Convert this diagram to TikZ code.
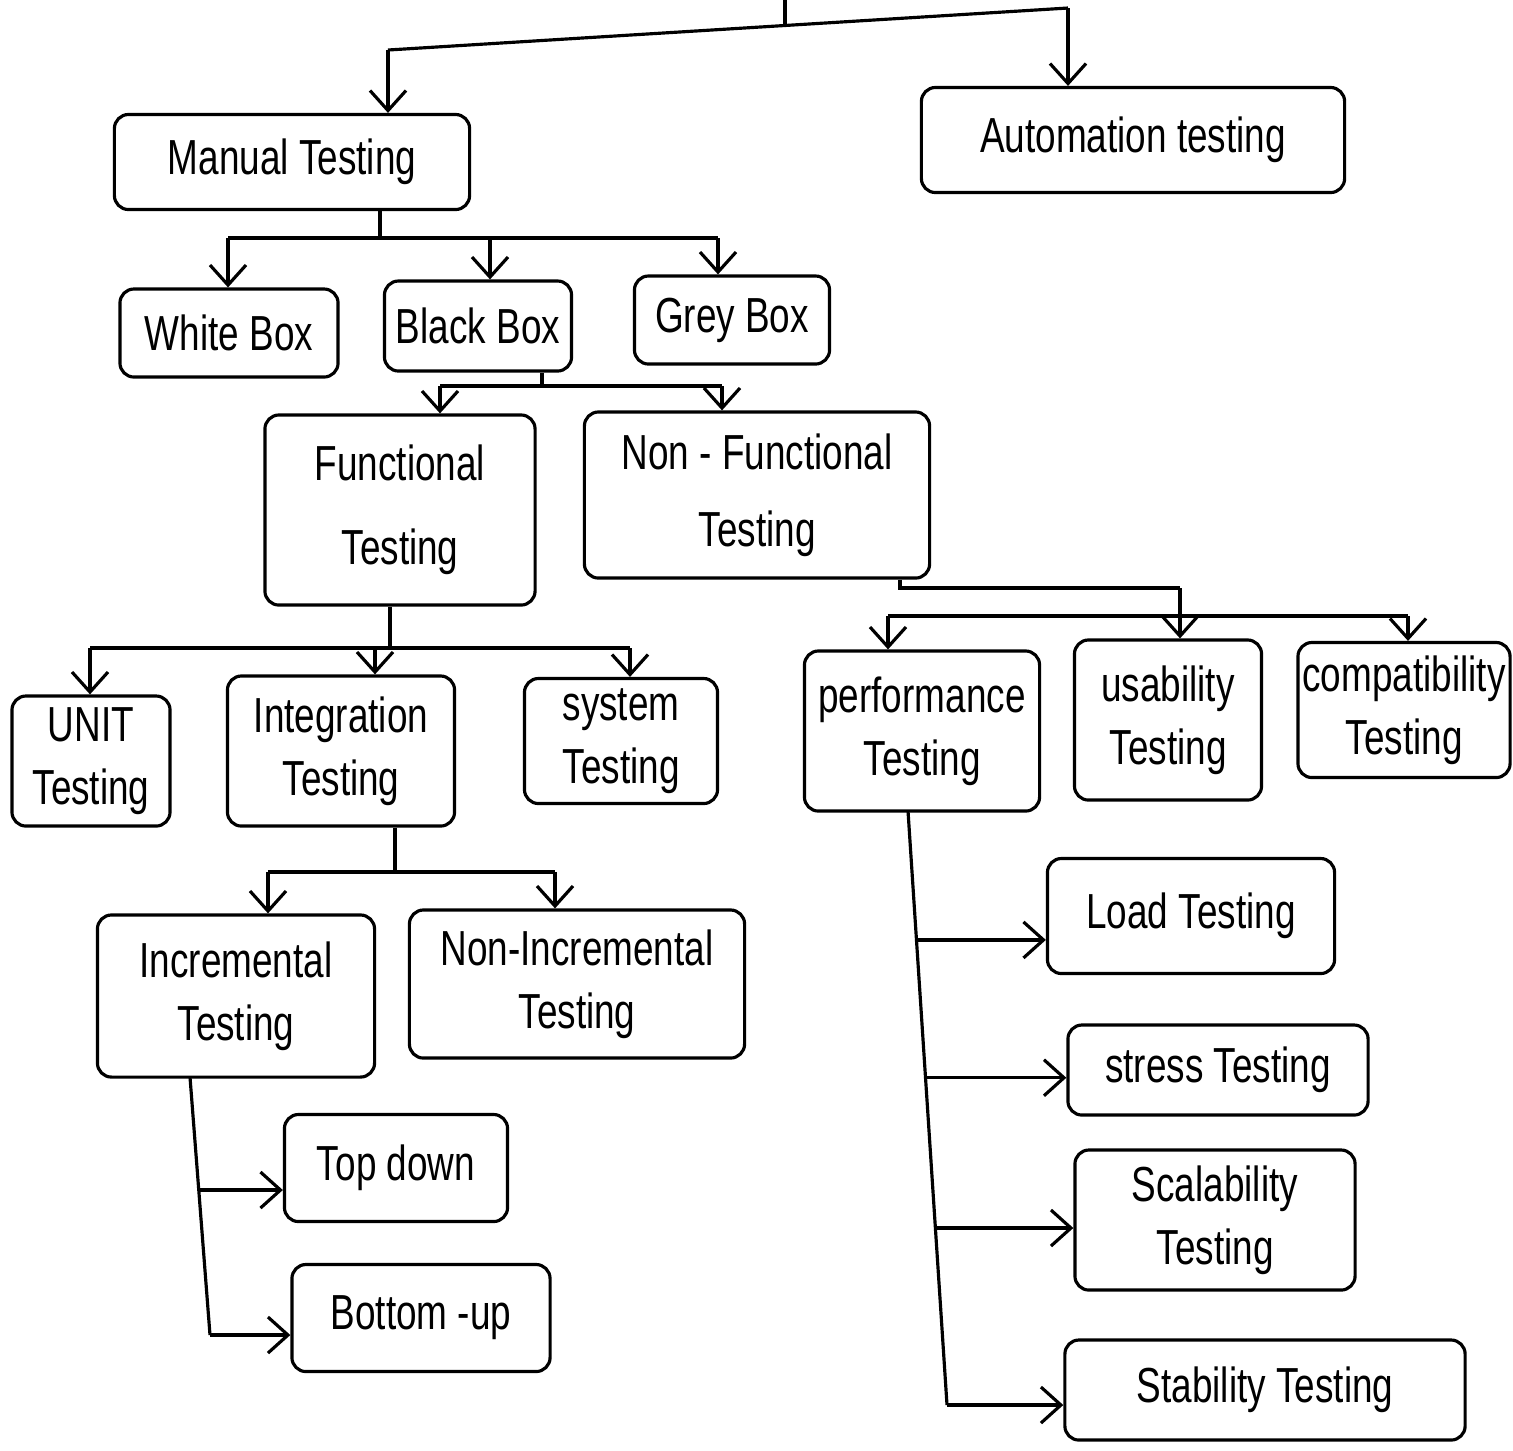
\documentclass[tikz,border=0pt]{standalone}
\usepackage{fontspec}
\setmainfont{Liberation Sans}[FakeStretch=0.75]
\usetikzlibrary{arrows.meta,calc}
\begin{document}
\begin{tikzpicture}[x=0.01cm,y=-0.01cm,
  box/.style={draw,line width=0.9pt,rounded corners=4pt,align=center,
    inner sep=1pt,font=\fontsize{14}{18}\selectfont},
  link/.style={line width=0.9pt},
  arr/.style={link,-{Straight Barb[length=2mm,width=3.6mm,line width=0.9pt]}}]
\useasboundingbox (0,0) rectangle (1513,1450);
\fill[white] (0,0) rectangle (1513,1450);

% ---- boxes ----
\node[box,minimum width=3.55cm,minimum height=0.95cm] (manual) at (292,162) {Manual Testing};
\node[box,minimum width=4.23cm,minimum height=1.05cm] (auto) at (1133,140) {Automation testing};

\node[box,minimum width=2.18cm,minimum height=0.88cm] (white) at (229,333) {White Box};
\node[box,minimum width=1.87cm,minimum height=0.90cm] (black) at (478,326) {Black Box};
\node[box,minimum width=1.95cm,minimum height=0.88cm] (grey) at (732,320) {Grey Box};

\node[box,minimum width=2.70cm,minimum height=1.90cm] (func) at (400,510) {Functional\\[6pt]Testing};
\node[box,minimum width=3.45cm,minimum height=1.66cm] (nonfunc) at (757,495) {Non - Functional\\[4pt]Testing};

\node[box,minimum width=1.58cm,minimum height=1.30cm] (unit) at (91,761) {UNIT\\Testing};
\node[box,minimum width=2.27cm,minimum height=1.50cm] (integ) at (341,751) {Integration\\Testing};
\node[box,minimum width=1.93cm,minimum height=1.25cm] (system) at (621,741) {system\\Testing};

\node[box,minimum width=2.35cm,minimum height=1.60cm] (perf) at (922,731) {performance\\Testing};
\node[box,minimum width=1.87cm,minimum height=1.60cm] (usab) at (1168,720) {usability\\Testing};
\node[box,minimum width=2.12cm,minimum height=1.35cm] (compat) at (1404,710) {compatibility\\Testing};

\node[box,minimum width=2.77cm,minimum height=1.62cm] (incr) at (236,996) {Incremental\\Testing};
\node[box,minimum width=3.35cm,minimum height=1.48cm] (nonincr) at (577,984) {Non-Incremental\\Testing};

\node[box,minimum width=2.23cm,minimum height=1.07cm] (topdown) at (396,1168) {Top down};
\node[box,minimum width=2.58cm,minimum height=1.07cm] (bottomup) at (421,1318) {Bottom -up};

\node[box,minimum width=2.87cm,minimum height=1.15cm] (load) at (1191,916) {Load Testing};
\node[box,minimum width=3.00cm,minimum height=0.90cm] (stress) at (1218,1070) {stress Testing};
\node[box,minimum width=2.80cm,minimum height=1.40cm] (scal) at (1215,1220) {Scalability\\Testing};
\node[box,minimum width=4.00cm,minimum height=1.00cm] (stab) at (1265,1390) {Stability Testing};

% ---- top split ----
\coordinate (tt) at (785,0);
\coordinate (tj) at (785,26);
\coordinate (tL) at (388,50);
\coordinate (tR) at (1068,8);
\draw[link] (tt) -- (tj);
\draw[link] (tL) -- (tR);
\draw[arr] (tL) -- (tL |- manual.north);
\draw[arr] (tR) -- (tR |- auto.north);

% ---- manual testing -> box kinds ----
\coordinate (mx) at (380,238);
\coordinate (mL) at (228,238);
\coordinate (mB) at (490,238);
\coordinate (mR) at (718,238);
\draw[link] (mx |- manual.south) -- (mx);
\draw[link] (mL) -- (mR);
\draw[arr] (mL) -- (mL |- white.north);
\draw[arr] (mB) -- (mB |- black.north);
\draw[arr] (mR) -- (mR |- grey.north);

% ---- black box -> functional / non-functional ----
\coordinate (bx) at (542,386);
\coordinate (bL) at (440,386);
\coordinate (bR) at (722,386);
\draw[link] (bx |- black.south) -- (bx);
\draw[link] (bL) -- (bR);
\draw[arr] (bL) -- (bL |- func.north);
\draw[arr] (bR) -- (bR |- nonfunc.north);

% ---- functional -> unit / integration / system ----
\coordinate (fx) at (390,648);
\coordinate (fL) at (90,648);
\coordinate (fI) at (375,648);
\coordinate (fR) at (630,648);
\draw[link] (fx |- func.south) -- (fx);
\draw[link] (fL) -- (fR);
\draw[arr] (fL) -- (fL |- unit.north);
\draw[arr] (fI) -- (fI |- integ.north);
\draw[arr] (fR) -- (fR |- system.north);

% ---- non-functional -> performance / usability / compatibility ----
\coordinate (nx) at (900,588);
\coordinate (nU) at (1180,588);
\coordinate (nL) at (888,616);
\coordinate (nR) at (1408,616);
\draw[link] (nx |- nonfunc.south) -- (nx) -- (nU);
\draw[arr] (nU) -- (nU |- usab.north);
\draw[link] (nL) -- (nR);
\draw[arr] (nL) -- (nL |- perf.north);
\draw[arr] (nR) -- (nR |- compat.north);

% ---- integration -> incremental / non-incremental ----
\coordinate (ix) at (395,872);
\coordinate (iL) at (268,872);
\coordinate (iR) at (555,872);
\draw[link] (ix |- integ.south) -- (ix);
\draw[link] (iL) -- (iR);
\draw[arr] (iL) -- (iL |- incr.north);
\draw[arr] (iR) -- (iR |- nonincr.north);

% ---- incremental -> top down / bottom-up ----
\coordinate (c0) at (190,1077);
\coordinate (c1) at (210,1335);
\coordinate (c2) at ($(c0)!0.438!(c1)$);
\draw[link] (c0) -- (c1);
\draw[arr] (c2) -- (c2 -| topdown.west);
\draw[arr] (c1) -- (c1 -| bottomup.west);

% ---- performance -> load / stress / scalability / stability ----
\coordinate (p0) at (908,811);
\coordinate (p1) at (947,1405);
\coordinate (pa) at ($(p0)!0.217!(p1)$);
\coordinate (pb) at ($(p0)!0.449!(p1)$);
\coordinate (pc) at ($(p0)!0.702!(p1)$);
\draw[link] (p0) -- (p1);
\draw[arr] (pa) -- (pa -| load.west);
\draw[arr] (pb) -- (pb -| stress.west);
\draw[arr] (pc) -- (pc -| scal.west);
\draw[arr] (p1) -- (p1 -| stab.west);
\end{tikzpicture}
\end{document}
